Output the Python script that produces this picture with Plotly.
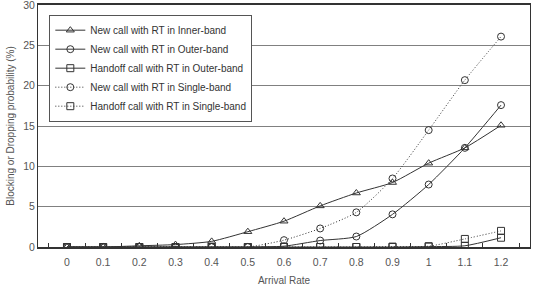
import plotly.graph_objects as go

x_labels = ["0", "0.1", "0.2", "0.3", "0.4", "0.5", "0.6", "0.7", "0.8", "0.9", "1", "1.1", "1.2"]
y_ticks = [0, 5, 10, 15, 20, 25, 30]

new_inner = [0, 0, 0.15, 0.3, 0.7, 1.9, 3.2, 5.1, 6.7, 8.0, 10.4, 12.3, 15.1]
new_outer = [0, 0, 0, 0, 0, 0, 0.1, 0.8, 1.3, 4.05, 7.75, 12.3, 17.6]
handoff_outer = [0, 0, 0, 0, 0, 0, 0, 0, 0, 0, 0.05, 0.15, 1.15]
new_single = [0, 0, 0, 0, 0, 0, 0.85, 2.3, 4.3, 8.5, 14.5, 20.7, 26.1]
handoff_single = [0, 0, 0, 0, 0, 0, 0, 0, 0, 0.05, 0.1, 1.0, 2.0]

series = [
    ("New call with RT in Inner-band", new_inner, "triangle-up-open", "solid"),
    ("New call with RT in Outer-band", new_outer, "circle-open", "solid"),
    ("Handoff call with RT in Outer-band", handoff_outer, "square-open", "solid"),
    ("New call with RT in Single-band", new_single, "circle-open", "1px,2px"),
    ("Handoff call with RT in Single-band", handoff_single, "square-open", "1px,2px"),
]

fig = go.Figure()
for name, vals, sym, dash in series:
    fig.add_trace(go.Scatter(
        x=x_labels, y=vals, name=name, mode="lines+markers",
        line=dict(color="#333333", width=1, dash=dash, shape="spline", smoothing=0.6),
        marker=dict(symbol=sym, size=7, color="#333333", line=dict(width=1, color="#333333")),
    ))

fig.update_layout(
    width=534, height=292,
    margin=dict(l=38, r=4, t=5, b=45),
    paper_bgcolor="white", plot_bgcolor="white",
    font=dict(family="Liberation Sans, Arial, sans-serif", size=10, color="#444444"),
    showlegend=True,
    legend=dict(
        x=0.023, y=0.96, xanchor="left", yanchor="top",
        bgcolor="white", bordercolor="#555555", borderwidth=1,
        font=dict(size=10, color="#333333"),
        tracegroupgap=0, itemwidth=30,
    ),
    xaxis=dict(
        type="category", showgrid=False, showline=True, linecolor="#333333", linewidth=1.5,
        mirror=True, ticks="inside", ticklen=4, tickcolor="#333333", tickson="boundaries",
        tickfont=dict(size=10.5, color="#555555"), ticklabelstandoff=5,
        title=dict(text="Arrival Rate", font=dict(size=10, color="#555555"), standoff=10),
    ),
    yaxis=dict(
        range=[0, 30.02], tickmode="array", tickvals=y_ticks, ticktext=[str(v) for v in y_ticks],
        showgrid=True, gridcolor="#808080", gridwidth=1,
        showline=True, linecolor="#333333", linewidth=1, mirror=True,
        ticks="", zeroline=False, automargin=False, ticklabeloverflow="allow",
        tickfont=dict(size=10.5, color="#555555"),
        title=dict(text="Blocking or Dropping probability (%)", font=dict(size=10, color="#555555"), standoff=6),
    ),
)

fig.write_html("out.html")
